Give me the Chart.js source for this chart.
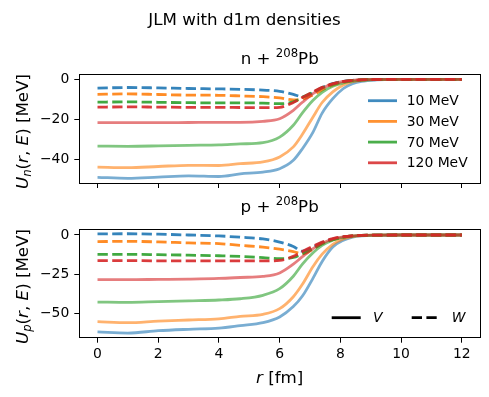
<!DOCTYPE html>
<html>
<head>
<meta charset="utf-8">
<script src="https://cdn.jsdelivr.net/npm/chart.js@4.4.1/dist/chart.umd.min.js"></script>
<style>
  body { margin: 0; background: #fff; }
  #fig { position: relative; width: 489px; height: 397px; overflow: hidden; }
  canvas { position: absolute; left: 0; }
  #topChart { top: 0; }
  #botChart { top: 200px; }
  svg { position: absolute; left: 0; top: 0; pointer-events: none; }
  svg text { font-family: "DejaVu Sans"; fill: #000; }
</style>
</head>
<body>
<div id="fig">
  <canvas id="topChart" width="489" height="200"></canvas>
  <canvas id="botChart" width="489" height="197"></canvas>
  <svg width="489" height="397">
    <text x="244.5" y="25" text-anchor="middle" font-size="16.7">JLM with d1m densities</text>
    <text x="279.7" y="64" text-anchor="middle" font-size="16.7">n + <tspan font-size="11.7" dy="-6.7">208</tspan><tspan dy="6.7">Pb</tspan></text>
    <text x="279.7" y="212" text-anchor="middle" font-size="16.7">p + <tspan font-size="11.7" dy="-6.7">208</tspan><tspan dy="6.7">Pb</tspan></text>
    <text transform="translate(28.3,131.5) rotate(-90)" text-anchor="middle" font-size="16.7"><tspan font-style="italic">U</tspan><tspan font-size="11.7" font-style="italic" dy="3">n</tspan><tspan dy="-3">(</tspan><tspan font-style="italic">r</tspan>, <tspan font-style="italic">E</tspan>) [MeV]</text>
    <text transform="translate(28.3,286.5) rotate(-90)" text-anchor="middle" font-size="16.7"><tspan font-style="italic">U</tspan><tspan font-size="11.7" font-style="italic" dy="3">p</tspan><tspan dy="-3">(</tspan><tspan font-style="italic">r</tspan>, <tspan font-style="italic">E</tspan>) [MeV]</text>
    <text x="279.7" y="382.5" text-anchor="middle" font-size="16.7"><tspan font-style="italic">r</tspan> [fm]</text>
  </svg>
</div>
<script>
// radial grid (fm) and energies
const radius = [0, 1, 2, 3, 4, 4.7, 5.45, 6.0, 6.45, 6.75, 7.1, 7.4, 7.75, 8.1, 8.4, 8.7, 9.2, 10, 11, 12];
const energies = ['10 MeV', '30 MeV', '70 MeV', '120 MeV'];
const colors = ['#1f77b4', '#ff7f0e', '#2ca02c', '#d62728'];

// tick labels
const xTicks = [0, 2, 4, 6, 8, 10, 12];
const nTicks = [0, -20, -40];
const pTicks = [0, -25, -50];

// n + 208Pb, real part V
const nV10 = [-49.0, -49.5, -48.9, -48.3, -48.6, -47.3, -46.4, -44.7, -40.5, -34.7, -26.4, -16.9, -9.7, -4.6, -2.2, -1.0, -0.3, -0.05, 0, 0];
const nV30 = [-43.9, -44.2, -43.6, -43.0, -43.1, -42.2, -41.3, -38.8, -33.8, -27.5, -18.8, -11.6, -6.3, -2.9, -1.2, -0.5, -0.15, -0.02, 0, 0];
const nV70 = [-33.4, -33.5, -33.3, -33.0, -32.8, -32.3, -31.7, -28.9, -23.0, -16.8, -10.5, -6.5, -3.5, -1.8, -0.9, -0.4, -0.1, 0, 0, 0];
const nV120 = [-21.7, -21.7, -21.7, -21.6, -21.5, -21.5, -21.0, -19.7, -15.5, -11.5, -7.2, -4.5, -2.3, -1.1, -0.5, -0.2, -0.05, 0, 0, 0];
// n + 208Pb, imaginary part W
const nW10 = [-4.4, -4.1, -4.3, -4.6, -4.8, -5.0, -5.4, -6.0, -7.5, -8.8, -6.8, -4.1, -2.2, -1.0, -0.5, -0.2, -0.05, 0, 0, 0];
const nW30 = [-7.5, -7.3, -7.6, -7.9, -8.0, -8.3, -8.7, -9.3, -10.3, -10.0, -7.8, -5.3, -2.9, -1.4, -0.7, -0.3, -0.08, 0, 0, 0];
const nW70 = [-11.4, -11.3, -11.5, -11.7, -11.8, -11.8, -11.9, -12.2, -11.3, -9.0, -6.4, -4.2, -2.4, -1.2, -0.6, -0.3, -0.08, 0, 0, 0];
const nW120 = [-13.9, -13.8, -13.9, -14.0, -14.0, -14.1, -14.2, -14.0, -11.6, -9.1, -6.3, -4.0, -2.3, -1.1, -0.6, -0.3, -0.1, 0, 0, 0];

// p + 208Pb, real part V
const pV10 = [-61.6, -62.3, -60.8, -59.9, -59.2, -57.6, -55.7, -52.1, -45.5, -38.8, -27.4, -16.8, -7.6, -3.3, -1.3, -0.5, -0.15, 0, 0, 0];
const pV30 = [-55.1, -55.7, -54.7, -54.0, -53.3, -51.7, -50.4, -46.8, -39.2, -31.3, -20.0, -12.2, -5.9, -2.5, -1.0, -0.4, -0.1, 0, 0, 0];
const pV70 = [-42.6, -42.8, -42.3, -41.8, -41.3, -40.5, -38.3, -34.1, -26.2, -18.5, -11.3, -6.6, -3.3, -1.5, -0.7, -0.3, -0.08, 0, 0, 0];
const pV120 = [-28.4, -28.4, -28.2, -28.0, -27.6, -27.0, -26.3, -24.1, -18.5, -13.8, -8.6, -5.2, -2.6, -1.2, -0.6, -0.25, -0.07, 0, 0, 0];
// p + 208Pb, imaginary part W
const pW10 = [0.7, 0.8, 0.5, 0.0, -0.6, -1.4, -2.5, -4.5, -7.3, -10.3, -7.8, -4.8, -2.6, -1.2, -0.5, -0.2, -0.05, 0, 0, 0];
const pW30 = [-4.2, -4.0, -4.4, -5.0, -5.5, -6.6, -7.7, -9.0, -10.5, -12.0, -8.9, -5.6, -3.0, -1.4, -0.6, -0.25, -0.07, 0, 0, 0];
const pW70 = [-12.3, -12.3, -12.5, -12.8, -13.2, -13.6, -14.4, -15.0, -14.3, -12.0, -8.7, -5.5, -3.0, -1.4, -0.6, -0.25, -0.07, 0, 0, 0];
const pW120 = [-16.3, -16.3, -16.4, -16.4, -16.5, -16.5, -16.5, -16.1, -13.6, -10.5, -7.2, -4.5, -2.3, -1.1, -0.5, -0.2, -0.06, 0, 0, 0];

const FONT = "DejaVu Sans";

const rgba = (hex, a) => {
    const n = parseInt(hex.slice(1), 16);
    return `rgba(${n >> 16},${(n >> 8) & 255},${n & 255},${a})`;
};

const buildDatasets = (vSets, wSets) => {
    const ds = [];
    energies.forEach((e, i) => {
        ds.push({
            label: e,
            data: radius.map((r, k) => ({ x: r, y: vSets[i][k] })),
            borderColor: rgba(colors[i], 0.6),
            borderWidth: 2.8,
            borderJoinStyle: 'round',
            pointRadius: 0,
            cubicInterpolationMode: 'monotone',
            fill: false
        });
        ds.push({
            label: e + ' (W)',
            data: radius.map((r, k) => ({ x: r, y: wSets[i][k] })),
            borderColor: rgba(colors[i], 0.9),
            borderWidth: 2.8,
            borderDash: [10.3, 4.4],
            pointRadius: 0,
            cubicInterpolationMode: 'monotone',
            fill: false
        });
    });
    // later datasets on top, like matplotlib
    ds.forEach((d, k) => { d.order = ds.length - k; });
    return ds;
};

const minusFmt = v => (v < 0 ? '\u2212' + Math.abs(v) : String(v));

// box around the axes (all four spines)
const framePlugin = {
    id: 'frame',
    afterDraw(chart) {
        const { ctx, chartArea: a } = chart;
        ctx.save();
        ctx.strokeStyle = '#000';
        ctx.lineWidth = 1;
        ctx.strokeRect(Math.round(a.left) + 0.5, Math.round(a.top) + 0.5,
            Math.round(a.right - a.left), Math.round(a.bottom - a.top));
        ctx.restore();
    }
};

// simple matplotlib-like legend drawn inside the axes
const legendPlugin = {
    id: 'mplLegend',
    afterDraw(chart, args, opts) {
        if (!opts.items) return;
        const { ctx, chartArea: a } = chart;
        ctx.save();
        opts.items.forEach(it => {
            const x0 = a.right - it.dx;
            const y = it.fromBottom ? a.bottom - it.dy : a.top + it.dy;
            ctx.strokeStyle = it.color;
            ctx.lineWidth = 2.8;
            ctx.setLineDash(it.dash || []);
            ctx.beginPath();
            ctx.moveTo(x0, y);
            ctx.lineTo(x0 + 29, y);
            ctx.stroke();
            ctx.setLineDash([]);
            ctx.fillStyle = '#000';
            ctx.font = (it.italic ? 'italic ' : '') + '13.9px "' + FONT + '"';
            ctx.textBaseline = 'middle';
            ctx.textAlign = 'left';
            ctx.fillText(it.text, x0 + it.textGap, y + 1);
        });
        ctx.restore();
    }
};

const makeOptions = (yMin, yMax, yTicks, showX, xHeight, padTop, legendItems) => ({
    responsive: false,
    animation: false,
    layout: { padding: { top: padTop, right: 9, left: 0, bottom: 0 }, autoPadding: false },
    plugins: {
        legend: { display: false },
        tooltip: { enabled: false },
        mplLegend: { items: legendItems }
    },
    scales: {
        x: {
            type: 'linear',
            min: -0.6,
            max: 12.6,
            afterBuildTicks: s => { s.ticks = xTicks.map(v => ({ value: v })); },
            afterFit: s => { s.height = xHeight; },
            grid: { drawOnChartArea: false, drawTicks: true, tickLength: 5, color: '#000', lineWidth: 1 },
            border: { display: false },
            ticks: {
                display: showX,
                color: '#000',
                font: { family: FONT, size: 13.9 },
                padding: 3,
                maxRotation: 0,
                autoSkip: false
            }
        },
        y: {
            type: 'linear',
            min: yMin,
            max: yMax,
            afterBuildTicks: s => { s.ticks = yTicks.map(v => ({ value: v })); },
            afterFit: s => { s.width = 79.3; },
            grid: { drawOnChartArea: false, drawTicks: true, tickLength: 5, color: '#000', lineWidth: 1 },
            border: { display: false },
            ticks: {
                color: '#000',
                font: { family: FONT, size: 13.9 },
                padding: 5,
                callback: minusFmt
            }
        }
    }
});

const topLegend = energies.map((e, i) => ({
    text: e, color: rgba(colors[i], 0.85), dx: 112, dy: 26.7 + 20.7 * i, textGap: 38.7
}));
const botLegend = [
    { text: 'V', color: '#000', dx: 148.3, dy: 20, fromBottom: true, textGap: 41.3, italic: true },
    { text: 'W', color: '#000', dash: [10.3, 4.4], dx: 68.3, dy: 20, fromBottom: true, textGap: 40, italic: true }
];

new Chart(document.getElementById('topChart'), {
    type: 'line',
    data: { datasets: buildDatasets([nV10, nV30, nV70, nV120], [nW10, nW30, nW70, nW120]) },
    options: makeOptions(-51.85, 2.65, nTicks, false, 17, 74, topLegend),
    plugins: [framePlugin, legendPlugin]
});

new Chart(document.getElementById('botChart'), {
    type: 'line',
    data: { datasets: buildDatasets([pV10, pV30, pV70, pV120], [pW10, pW30, pW70, pW120]) },
    options: makeOptions(-65.25, 3.62, pTicks, true, 59.3, 29.3, botLegend),
    plugins: [framePlugin, legendPlugin]
});
</script>
</body>
</html>
